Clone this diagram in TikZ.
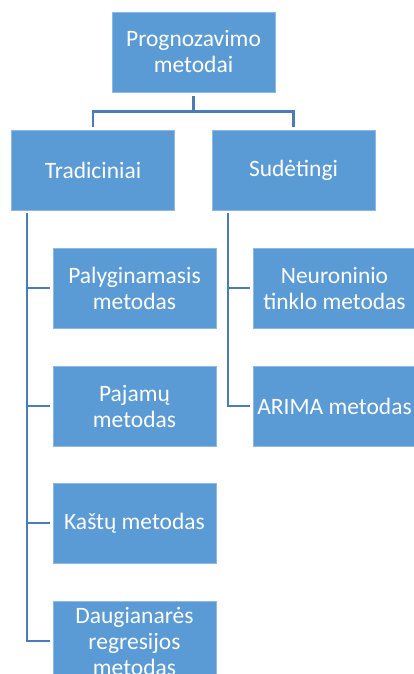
\documentclass[tikz,border=0pt]{standalone}
\usepackage{fontspec}
\setmainfont{Carlito}
\definecolor{boxfill}{HTML}{5B9BD5}
\definecolor{boxedge}{HTML}{8DB9E4}
\definecolor{linkcol}{HTML}{4A7DB8}
\begin{document}
\begin{tikzpicture}[x=1pt,y=-1pt,
  box/.style={rectangle, fill=boxfill, draw=boxedge, line width=0.8pt,
    minimum width=163pt, minimum height=80pt, inner sep=0pt,
    align=center, text=white, font=\fontsize{23.5}{26}\selectfont},
  conn/.style={draw=linkcol, line width=2.6pt}]
\useasboundingbox (0,0) rectangle (414,674);

% root and first level
\node[box] (top) at (193.5,52) {Prognozavimo\\metodai};
\node[box] (trad) at (93,170) {Tradiciniai};
\node[box] (sud) at (293.5,170) {Sudėtingi};

% children of "Tradiciniai"
\node[box] (pal) at (134.5,288) {Palyginamasis\\metodas};
\node[box] (paj) at (134.5,406) {Pajamų\\metodas};
\node[box] (kas) at (134.5,523) {Kaštų metodas};
\node[box] (dau) at (134.5,641) {Daugianarės\\regresijos\\metodas};

% children of "Sudėtingi"
\node[box] (neu) at (334.5,288) {Neuroninio\\tinklo metodas};
\node[box] (ari) at (334.5,406) {ARIMA metodas};

% root to first level
\coordinate (rs) at ([yshift=-4pt]top.south);
\draw[conn] (rs) -- ++(0,15) -| ([yshift=3pt]trad.north);
\draw[conn] (rs) -- ++(0,15) -| ([yshift=3pt]sud.north);

% left branch
\coordinate (lv) at ([xshift=-66pt,yshift=-3pt]trad.south);
\draw[conn] (lv) |- ([xshift=-3pt]dau.west);
\draw[conn] (lv |- pal.west) -- ([xshift=-3pt]pal.west);
\draw[conn] (lv |- paj.west) -- ([xshift=-3pt]paj.west);
\draw[conn] (lv |- kas.west) -- ([xshift=-3pt]kas.west);

% right branch
\coordinate (rv) at ([xshift=-65.5pt,yshift=-3pt]sud.south);
\draw[conn] (rv) |- ([xshift=-3pt]ari.west);
\draw[conn] (rv |- neu.west) -- ([xshift=-3pt]neu.west);
\end{tikzpicture}
\end{document}
